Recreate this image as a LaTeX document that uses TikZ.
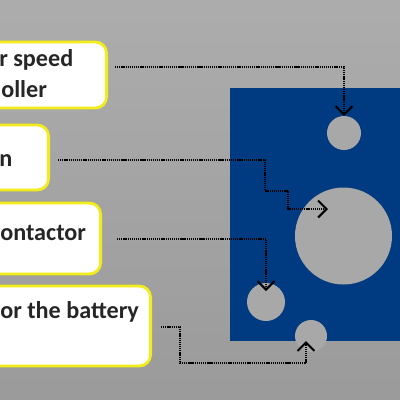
\documentclass[tikz,border=0pt]{standalone}
\usepackage{fontspec}
\setmainfont{Carlito}
\usetikzlibrary{arrows.meta,positioning}

\definecolor{panelblue}{HTML}{003A80}
\definecolor{holegray}{HTML}{A8A8A8}
\definecolor{boxyellow}{HTML}{F2EC1A}

\tikzset{
  labelbox/.style={draw=boxyellow, line width=2pt, fill=white, rounded corners=8pt, inner sep=0pt},
  labeltext/.style={font=\fontsize{17.2}{20}\selectfont\bfseries, text=black!85, inner sep=0pt},
  hole/.style={circle, fill=holegray, inner sep=0pt, outer sep=0pt},
  leader/.style={line width=1.3pt, dash pattern=on 0.9pt off 0.6pt,
    -{Straight Barb[length=6pt,width=12pt,line width=1.5pt]}}
}

\begin{document}
\begin{tikzpicture}[x=0.25mm, y=-0.25mm]
    % Draw background
    \useasboundingbox (0,0) rectangle (400,400);
    \clip (0,0) rectangle (400,400);
    \shade[top color=holegray!95!white, bottom color=holegray!92!black] (0,0) rectangle (400,400);

    % Draw the blue plate and its holes
    \fill[panelblue] (230,88) rectangle (400,341);
    \node[hole, minimum size=8.5mm] (fanhole) at (344,133) {};
    \node[hole, minimum size=24.25mm] (bighole) at (343.5,236) {};
    \node[hole, minimum size=9.5mm] (lefthole) at (266,302) {};
    \node[hole, minimum size=8mm] (bumphole) at (311,336) {};

    % Draw the label boxes
    \node[labelbox, minimum width=32mm, minimum height=16.5mm, anchor=east] (speedbox) at (108,75) {};
    \node[labelbox, minimum width=17.5mm, minimum height=16.25mm, anchor=east] (mainbox) at (50,157.5) {};
    \node[labelbox, minimum width=30.5mm, minimum height=17.75mm, anchor=east] (contbox) at (102,238.5) {};
    \node[labelbox, minimum width=43mm, minimum height=20mm, anchor=east] (battbox) at (152,326) {};

    % Draw the label texts
    \node[labeltext, anchor=base west] (speedtxt) at (-1,66) {r speed};
    \node[labeltext, anchor=base west] (ctrltxt) at (1,97) {oller};
    \node[labeltext, anchor=base west] (maintxt) at (-1,166) {n};
    \node[labeltext, anchor=base west] (conttxt) at (0,240) {ontactor};
    \node[labeltext, anchor=base west] (batttxt) at (0,318) {or the battery};

    % Draw the leaders
    \coordinate (speedout) at (115,67);
    \coordinate (mainout) at (58,160);
    \coordinate (contout) at (117,239);
    \coordinate (battout) at (161,327);
    \coordinate (bigtip) at (328,209);
    \coordinate (lefttip) at (266,291);
    \coordinate (bumptip) at (306,341);

    \draw[leader] (speedout) -| (fanhole.north);
    \draw[leader] (mainout) -- (265,160) -- (265,191) -- (288,191) -- (288,209) -- (bigtip);
    \draw[leader] (contout) -| (lefttip);
    \draw[leader] (battout) -- (180,327) -- (180,363) -| (bumptip);
\end{tikzpicture}
\end{document}
